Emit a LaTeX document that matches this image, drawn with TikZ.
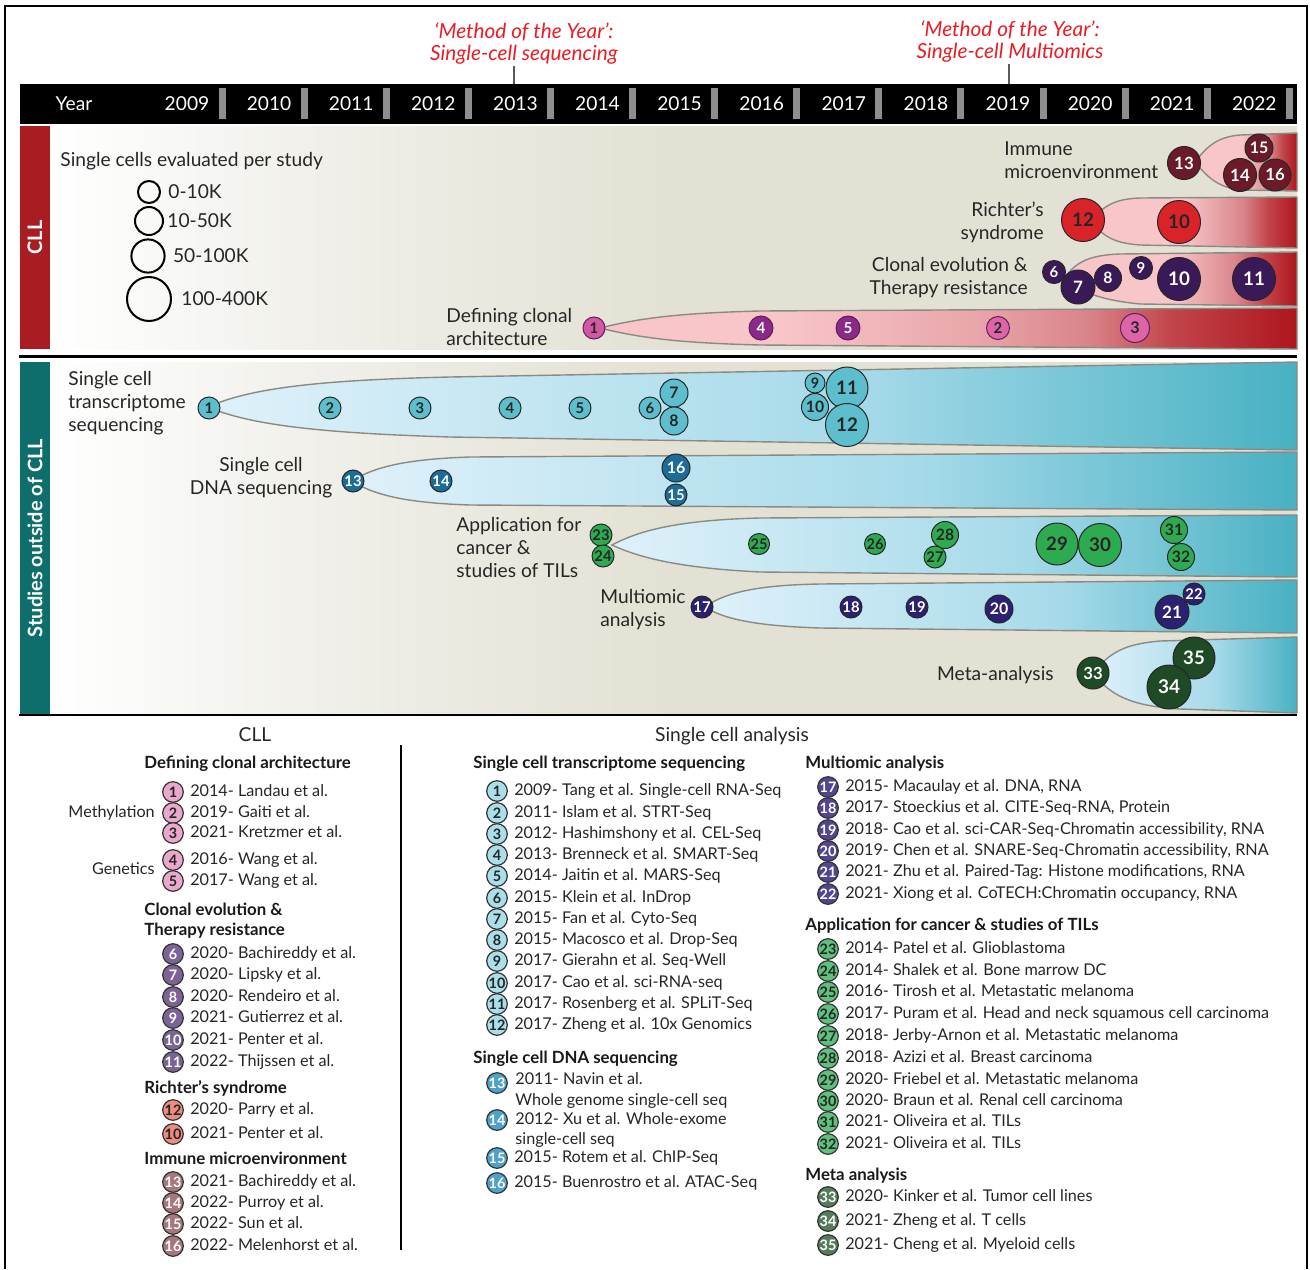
\documentclass[tikz,border=0pt]{standalone}
\usepackage{fontspec}
\setmainfont{Lato}
\usetikzlibrary{positioning, calc}

\definecolor{CllRed}{HTML}{A81C22}
\definecolor{OutTeal}{HTML}{0D6E6B}
\definecolor{MotyRed}{HTML}{EC1C24}
\definecolor{TickGray}{HTML}{5A5A5A}
\definecolor{SepGray}{HTML}{8E8E8E}
\definecolor{BgMid}{HTML}{F0EFE9}
\definecolor{BgBeige}{HTML}{E3E1D3}
\definecolor{PinkL}{HTML}{F8C5C9}
\definecolor{PinkM}{HTML}{E8A6AA}
\definecolor{PinkR}{HTML}{D9848A}
\definecolor{RedR}{HTML}{C2454B}
\definecolor{RedD}{HTML}{AE161D}
\definecolor{BlueL}{HTML}{DFF1FA}
\definecolor{BlueM}{HTML}{A6DAE9}
\definecolor{BlueD}{HTML}{48B1C3}
\definecolor{LaneEdge}{HTML}{8A8A84}
\definecolor{BubMag}{HTML}{D4589F}
\definecolor{BubPink}{HTML}{DE64A8}
\definecolor{BubPur}{HTML}{8B2A86}
\definecolor{BubEvo}{HTML}{3A1A56}
\definecolor{BubRich}{HTML}{DA2229}
\definecolor{BubImm}{HTML}{6B1A27}
\definecolor{BubTx}{HTML}{5DBFCD}
\definecolor{BubDna}{HTML}{1D6C98}
\definecolor{BubCan}{HTML}{2EAA50}
\definecolor{BubMul}{HTML}{2C2170}
\definecolor{BubMeta}{HTML}{1E4A25}
\definecolor{LgPink}{HTML}{EAA8CD}
\definecolor{LgEvo}{HTML}{7B6395}
\definecolor{LgRich}{HTML}{EC8B80}
\definecolor{LgImm}{HTML}{A6777D}
\definecolor{LgTx}{HTML}{AADEE9}
\definecolor{LgDna}{HTML}{4CA2C9}
\definecolor{LgMul}{HTML}{524690}
\definecolor{LgCan}{HTML}{5EC17D}
\definecolor{LgMeta}{HTML}{557D5C}

\pgfdeclarehorizontalshading{bgshade}{100bp}{color(0bp)=(white); color(25bp)=(white); color(36bp)=(BgMid); color(50bp)=(BgBeige); color(100bp)=(BgBeige)}
\pgfdeclarehorizontalshading{cllLong}{100bp}{color(0bp)=(PinkL); color(25bp)=(PinkL); color(38bp)=(PinkL); color(52bp)=(PinkM); color(60bp)=(PinkR); color(66bp)=(RedR); color(75bp)=(RedD); color(100bp)=(RedD)}
\pgfdeclarehorizontalshading{cllShort}{100bp}{color(0bp)=(PinkL); color(25bp)=(PinkL); color(48bp)=(PinkL); color(55bp)=(PinkM); color(62bp)=(PinkR); color(68bp)=(RedR); color(75bp)=(RedD); color(100bp)=(RedD)}
\pgfdeclarehorizontalshading{blueshade}{100bp}{color(0bp)=(BlueL); color(25bp)=(BlueL); color(55bp)=(BlueM); color(75bp)=(BlueD); color(100bp)=(BlueD)}

\newcommand\lanefont{\fontsize{9.6}{11.5}\selectfont}
\newcommand\motyfont{\itshape\fontsize{10.4}{11}\selectfont}
\newcommand\barfont{\bfseries\fontsize{10}{11}\selectfont}
\newcommand\legfont{\fontsize{8.1}{10}\selectfont}
\newcommand\headfont{\bfseries\fontsize{8.4}{10}\selectfont}

\tikzset{
  yearlbl/.style={text=white, font=\lanefont, inner sep=0pt},
  lanelbl/.style={font=\lanefont, text=black!85, inner sep=0pt},
  motylbl/.style={font=\motyfont, text=MotyRed, align=center, inner sep=1pt},
  tickline/.style={TickGray, line width=1.3pt},
  sidebar/.style={minimum width=15pt, inner sep=0pt, text=white, font=\barfont},
  lanecll/.style={draw=LaneEdge, line width=0.7pt},
  laneout/.style={draw=LaneEdge, line width=0.7pt, shading=blueshade},
  bubble/.style={circle, draw=black!85, line width=0.5pt, inner sep=0pt},
  sizecirc/.style={circle, draw=black, line width=1pt, inner sep=0pt},
  coltitle/.style={font=\lanefont, text=black!85, inner sep=0pt},
  lghead/.style={font=\headfont, text=black!90, inner sep=0pt, align=left},
  lgtext/.style={font=\legfont, text=black!85, inner sep=0pt, text height=6pt, text depth=1.7pt},
  lgnum/.style={circle, draw=black!80, line width=0.6pt, inner sep=0pt, minimum size=10.3pt, font=\bfseries\fontsize{7.2}{7}\selectfont}
}

\begin{document}
\begin{tikzpicture}[x=0.5pt, y=-0.5pt]
  \useasboundingbox (0,0) rectangle (1310,1269);
  \fill[white] (0,0) rectangle (1310,1269);
  \draw[line width=0.8pt] (5,1269) -- (5,6) -- (1307,6) -- (1307,1269);

  % method of the year
  \node[motylbl] (moty1) at (524,43) {‘Method of the Year’:\\Single-cell sequencing};
  \node[motylbl] (moty2) at (1010,41) {‘Method of the Year’:\\Single-cell Multiomics};
  \coordinate (tick1) at (514,84);
  \coordinate (tick2) at (1009,84);
  \draw[tickline] (moty1.south -| tick1) -- (tick1);
  \draw[tickline] (moty2.south -| tick2) -- (tick2);

  % year band
  \fill[black] (20,84) rectangle (1297,124);
  \foreach \i in {0,...,13}
    \fill[SepGray] ({218.5+82.1*\i},88) rectangle ++(7,31);
  \node[yearlbl] (yr) at (74,104) {Year};
  \foreach \yr [count=\i from 0] in {2009,...,2022}
    \node[yearlbl] (y\yr) at ({187+82.1*\i},104) {\yr};

  % panels
  \shade[shading=bgshade] (50,126) rectangle (1297,349);
  \shade[shading=bgshade] (50,362) rectangle (1297,714);
  \node[sidebar, fill=CllRed, minimum height=111.5pt] (cllbar) at (35,237.5) {\rotatebox{90}{CLL}};
  \node[sidebar, fill=OutTeal, minimum height=176pt] (outbar) at (35,538) {\rotatebox{90}{Studies outside of CLL}};
  \draw[line width=1.5pt] (19,356) -- (1297,356);
  \draw[line width=1.2pt] (19,715) -- (1297,715);

  % CLL lanes
  \shadedraw[lanecll, shading=cllLong] (600,328) .. controls (640,318) and (680,313) .. (760,311) -- (1297,308) -- (1297,349) -- (760,345) .. controls (680,343) and (640,338) .. (600,328) -- cycle;
  \shadedraw[lanecll, shading=cllShort] (1065,278) .. controls (1075,262) and (1090,255) .. (1120,254) -- (1297,252) -- (1297,306) -- (1140,304) .. controls (1100,300) and (1080,292) .. (1065,278) -- cycle;
  \shadedraw[lanecll, shading=cllShort] (1090,221) .. controls (1105,205) and (1115,199) .. (1140,198) -- (1297,197) -- (1297,248) -- (1140,245) .. controls (1115,243) and (1105,238) .. (1090,221) -- cycle;
  \shadedraw[lanecll, shading=cllShort] (1195,162) .. controls (1208,145) and (1218,137) .. (1240,135) -- (1297,133) -- (1297,191) -- (1240,190) .. controls (1218,187) and (1208,178) .. (1195,162) -- cycle;

  % outside lanes
  \shadedraw[laneout] (208,407) .. controls (250,388) and (320,380) .. (450,377) -- (1297,362) -- (1297,450) -- (450,437) .. controls (320,433) and (250,425) .. (208,407) -- cycle;
  \shadedraw[laneout] (352,481) .. controls (375,466) and (410,459) .. (470,457) -- (1297,452) -- (1297,510) -- (470,505) .. controls (410,503) and (375,496) .. (352,481) -- cycle;
  \shadedraw[laneout] (612,545) .. controls (640,530) and (680,520) .. (760,518) -- (1297,515) -- (1297,577) -- (760,572) .. controls (680,568) and (640,558) .. (612,545) -- cycle;
  \shadedraw[laneout] (705,607) .. controls (725,592) and (760,585) .. (820,584) -- (1297,580) -- (1297,633) -- (820,628) .. controls (760,626) and (725,620) .. (705,607) -- cycle;
  \shadedraw[laneout] (1093,673) .. controls (1110,652) and (1125,644) .. (1160,641) -- (1297,637) -- (1297,713) -- (1180,709) .. controls (1130,706) and (1110,695) .. (1093,673) -- cycle;

  % size legend
  \node[lanelbl, anchor=west] (sizettl) at (60,161) {Single cells evaluated per study};
  \node[sizecirc, minimum size=11pt] (sz1) at (149,192) {};
  \node[sizecirc, minimum size=14pt] (sz2) at (149,221) {};
  \node[sizecirc, minimum size=16.6pt] (sz3) at (148,256) {};
  \node[sizecirc, minimum size=22pt] (sz4) at (149,299) {};
  \node[lanelbl, right=3.5pt of sz1] (sz1l) {0-10K};
  \node[lanelbl, right=1.5pt of sz2] (sz2l) {10-50K};
  \node[lanelbl, right=3.5pt of sz3] (sz3l) {50-100K};
  \node[lanelbl, right=4.5pt of sz4] (sz4l) {100-400K};

  % CLL lane labels
  \node[lanelbl, align=left, anchor=west] (ldef) at (446,327) {Defining clonal\\architecture};
  \node[lanelbl, align=right, anchor=east] (levo) at (1028,278) {Clonal evolution \&\\Therapy resistance};
  \node[lanelbl, align=right, anchor=east] (lrich) at (1044,222) {Richter’s\\syndrome};
  \node[lanelbl, align=left, anchor=west] (limm) at (1004,160) {Immune\\microenvironment};

  % CLL bubbles
  \foreach \n/\x/\y/\rad/\col/\tc in {1/594/328/11/BubMag/black!85, 4/761/328/12/BubPur/white, 5/848/328/12/BubPur/white, 2/998/328/11.5/BubPink/black!85, 3/1135/328/14.5/BubPink/black!85}{
    \pgfmathsetmacro\fs{5.3+0.19*\rad}
    \node[bubble, draw=BubPur!70!black, fill=\col, text=\tc, minimum size=\rad pt, font=\bfseries\fontsize{\fs}{\fs}\selectfont] (cd\n) at (\x,\y) {\n};
  }
  \foreach \n/\x/\y/\rad in {6/1054/272/11.5, 7/1078/287/17, 8/1108/278/13.5, 9/1141/268/11.5, 10/1179/279/21.5, 11/1254/279/21.5}{
    \pgfmathsetmacro\fs{5.3+0.19*\rad}
    \node[bubble, fill=BubEvo, text=white, minimum size=\rad pt, font=\bfseries\fontsize{\fs}{\fs}\selectfont] (ce\n) at (\x,\y) {\n};
  }
  \foreach \n/\x/\y/\rad in {12/1083/220/21.5, 10/1179/222/21.5}{
    \pgfmathsetmacro\fs{5.3+0.19*\rad}
    \node[bubble, fill=BubRich, text=black!85, minimum size=\rad pt, font=\bfseries\fontsize{\fs}{\fs}\selectfont] (cr\n) at (\x,\y) {\n};
  }
  \foreach \n/\x/\y/\rad in {13/1184/163/16.5, 15/1259/148/14, 14/1240/175/16.5, 16/1275/175/16}{
    \pgfmathsetmacro\fs{5.3+0.19*\rad}
    \node[bubble, fill=BubImm, text=white, minimum size=\rad pt, font=\bfseries\fontsize{\fs}{\fs}\selectfont] (ci\n) at (\x,\y) {\n};
  }

  % outside lane labels
  \node[lanelbl, align=left, anchor=west] (ltx) at (68,403) {Single cell\\transcriptome\\sequencing};
  \node[lanelbl, align=center] (ldna) at (261,478) {Single cell\\DNA sequencing};
  \node[lanelbl, align=left, anchor=west] (lcan) at (456,547) {Application for\\cancer \&\\studies of TILs};
  \node[lanelbl, align=left, anchor=west] (lmul) at (600,610) {Multiomic\\analysis};
  \node[lanelbl, anchor=east] (lmeta) at (1054,675) {Meta-analysis};

  % outside bubbles
  \foreach \n/\x/\y/\rad in {1/209/408/11, 2/330/408/11, 3/420/408/11, 4/510/408/11, 5/580/408/11, 6/650/408/11, 7/674/393/14, 8/674/421/14, 9/815/383/10, 10/815/407/13.5, 11/847/388/21, 12/847/425/21.5}{
    \pgfmathsetmacro\fs{5.3+0.19*\rad}
    \node[bubble, fill=BubTx, text=black!85, minimum size=\rad pt, font=\bfseries\fontsize{\fs}{\fs}\selectfont] (ot\n) at (\x,\y) {\n};
  }
  \foreach \n/\x/\y/\rad in {13/353/481/11, 14/441/481/11, 16/676/468/14, 15/676/495/11}{
    \pgfmathsetmacro\fs{5.3+0.19*\rad}
    \node[bubble, fill=BubDna, text=white, minimum size=\rad pt, font=\bfseries\fontsize{\fs}{\fs}\selectfont] (od\n) at (\x,\y) {\n};
  }
  \foreach \n/\x/\y/\rad in {23/601/535/11, 24/603/556/11, 25/759/544/10.5, 26/875/544/10.5, 28/945/535/13.5, 27/935/557/11, 29/1057/544/21, 30/1100/545/21.5, 31/1174/530/13.5, 32/1181/557/13.5}{
    \pgfmathsetmacro\fs{5.3+0.19*\rad}
    \node[bubble, fill=BubCan, text=black!85, minimum size=\rad pt, font=\bfseries\fontsize{\fs}{\fs}\selectfont] (oc\n) at (\x,\y) {\n};
  }
  \foreach \n/\x/\y/\rad in {17/702/607/11, 18/851/607/11, 19/917/607/11, 20/999/609/14, 22/1194/594/11, 21/1172/612/17}{
    \pgfmathsetmacro\fs{5.3+0.19*\rad}
    \node[bubble, fill=BubMul, text=white, minimum size=\rad pt, font=\bfseries\fontsize{\fs}{\fs}\selectfont] (om\n) at (\x,\y) {\n};
  }
  \foreach \n/\x/\y/\rad in {33/1093/673/16, 35/1194/658/21, 34/1169/687/22}{
    \pgfmathsetmacro\fs{5.3+0.19*\rad}
    \node[bubble, fill=BubMeta, text=white, minimum size=\rad pt, font=\bfseries\fontsize{\fs}{\fs}\selectfont] (oe\n) at (\x,\y) {\n};
  }

  % legend: CLL
  \node[coltitle] (cllttl) at (255,735) {CLL};
  \draw[line width=0.6pt] (401,745) -- (401,1250);
  \node[lghead, anchor=west] (hdef) at (144,764) {Defining clonal architecture};
  \foreach \n/\y/\txt in {1/792/2014- Landau et al., 2/813/2019- Gaiti et al., 3/833/2021- Kretzmer et al., 4/860/2016- Wang et al., 5/881/2017- Wang et al.}{
    \node[lgnum, fill=LgPink, text=black!85] (ld\n) at (173,\y) {\n};
    \node[lgtext, right=3pt of ld\n] (ldt\n) {\txt};
  }
  \node[lgtext, left=3.5pt of ld2] (methyl) {Methylation};
  \node[lgtext, anchor=east] (genet) at ($(ld4.west)!0.5!(ld5.west)+(-3.5pt,0)$) {Genetics};
  \node[lghead, anchor=west] (hevo) at (144,921) {Clonal evolution \&\\Therapy resistance};
  \foreach \n/\y/\txt in {6/954/2020- Bachireddy et al., 7/975/2020- Lipsky et al., 8/997/2020- Rendeiro et al., 9/1018/2021- Gutierrez et al., 10/1040/2021- Penter et al., 11/1062/2022- Thijssen et al.}{
    \node[lgnum, fill=LgEvo, text=white] (le\n) at (173,\y) {\n};
    \node[lgtext, right=3pt of le\n] (let\n) {\txt};
  }
  \node[lghead, anchor=west] (hrich) at (144,1088) {Richter’s syndrome};
  \foreach \n/\y/\txt in {12/1110/2020- Parry et al., 10/1134/2021- Penter et al.}{
    \node[lgnum, fill=LgRich, text=black!85] (lr\n) at (173,\y) {\n};
    \node[lgtext, right=3pt of lr\n] (lrt\n) {\txt};
  }
  \node[lghead, anchor=west] (himm) at (144,1158) {Immune microenvironment};
  \foreach \n/\y/\txt in {13/1182/2021- Bachireddy et al., 14/1203/2022- Purroy et al., 15/1224/2022- Sun et al., 16/1246/2022- Melenhorst et al.}{
    \node[lgnum, fill=LgImm, text=white] (li\n) at (173,\y) {\n};
    \node[lgtext, right=3pt of li\n] (lit\n) {\txt};
  }

  % legend: single cell analysis
  \node[coltitle] (scttl) at (732,736) {Single cell analysis};
  \node[lghead, anchor=west] (htx) at (473,764) {Single cell transcriptome sequencing};
  \foreach \n/\y/\txt in {1/791/2009- Tang et al. Single-cell RNA-Seq, 2/813/2011- Islam et al. STRT-Seq, 3/834/2012- Hashimshony et al. CEL-Seq, 4/855/2013- Brenneck et al. SMART-Seq, 5/876/2014- Jaitin et al. MARS-Seq, 6/898/2015- Klein et al. InDrop, 7/919/2015- Fan et al. Cyto-Seq, 8/940/2015- Macosco et al. Drop-Seq, 9/961/2017- Gierahn et al. Seq-Well, 10/983/2017- Cao et al. sci-RNA-seq, 11/1004/2017- Rosenberg et al. SPLiT-Seq, 12/1025/2017- Zheng et al. 10x Genomics}{
    \node[lgnum, fill=LgTx, text=black!85] (lt\n) at (497,\y) {\n};
    \node[lgtext, right=3pt of lt\n] (ltt\n) {\txt};
  }
  \node[lghead, anchor=west] (hdna) at (473,1059) {Single cell DNA sequencing};
  \node[lgnum, fill=LgDna, text=white] (lb13) at (497,1083) {13};
  \node[lgtext, anchor=west] (lbt13) at (515,1080) {2011- Navin et al.};
  \node[lgtext, anchor=north west] (lbt13b) at ([yshift=-2.5pt]lbt13.south west) {Whole genome single-cell seq};
  \node[lgnum, fill=LgDna, text=white] (lb14) at (497,1120) {14};
  \node[lgtext, anchor=west] (lbt14) at (515,1120) {2012- Xu et al. Whole-exome};
  \node[lgtext, anchor=north west] (lbt14b) at ([yshift=-2pt]lbt14.south west) {single-cell seq};
  \foreach \n/\y/\txt in {15/1158/2015- Rotem et al. ChIP-Seq, 16/1183/2015- Buenrostro et al. ATAC-Seq}{
    \node[lgnum, fill=LgDna, text=white] (lb\n) at (497,\y) {\n};
    \node[lgtext, right=3pt of lb\n] (lbt\n) {\txt};
  }

  \node[lghead, anchor=west] (hmul) at (805,764) {Multiomic analysis};
  \foreach \n/\y/\txt in {17/787/{2015- Macaulay et al. DNA, RNA}, 18/808/{2017- Stoeckius et al. CITE-Seq-RNA, Protein}, 19/830/{2018- Cao et al. sci-CAR-Seq-Chromatin accessibility, RNA}, 20/851/{2019- Chen et al. SNARE-Seq-Chromatin accessibility, RNA}, 21/872/{2021- Zhu et al. Paired-Tag: Histone modifications, RNA}, 22/894/{2021- Xiong et al. CoTECH:Chromatin occupancy, RNA}}{
    \node[lgnum, fill=LgMul, text=white] (lm\n) at (828,\y) {\n};
    \node[lgtext, right=3pt of lm\n] (lmt\n) {\txt};
  }
  \node[lghead, anchor=west] (hcan) at (805,926) {Application for cancer \& studies of TILs};
  \foreach \n/\y/\txt in {23/949/2014- Patel et al. Glioblastoma, 24/971/2014- Shalek et al. Bone marrow DC, 25/992/2016- Tirosh et al. Metastatic melanoma, 26/1014/2017- Puram et al. Head and neck squamous cell carcinoma, 27/1036/2018- Jerby-Arnon et al. Metastatic melanoma, 28/1058/2018- Azizi et al. Breast carcinoma, 29/1080/2020- Friebel et al. Metastatic melanoma, 30/1101/2020- Braun et al. Renal cell carcinoma, 31/1122/2021- Oliveira et al. TILs, 32/1144/2021- Oliveira et al. TILs}{
    \node[lgnum, fill=LgCan, text=black!85] (lc\n) at (828,\y) {\n};
    \node[lgtext, right=3pt of lc\n] (lct\n) {\txt};
  }
  \node[lghead, anchor=west] (hmeta) at (805,1176) {Meta analysis};
  \foreach \n/\y/\txt in {33/1197/2020- Kinker et al. Tumor cell lines, 34/1221/2021- Zheng et al. T cells, 35/1245/2021- Cheng et al. Myeloid cells}{
    \node[lgnum, fill=LgMeta, text=white] (lx\n) at (828,\y) {\n};
    \node[lgtext, right=3pt of lx\n] (lxt\n) {\txt};
  }
\end{tikzpicture}
\end{document}
